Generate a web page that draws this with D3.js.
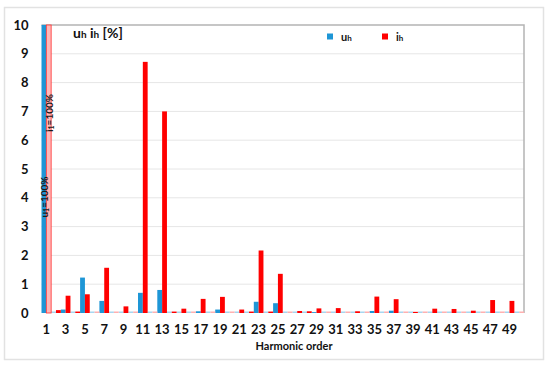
<!DOCTYPE html>
<html><head><meta charset="utf-8">
<script src="https://cdn.jsdelivr.net/npm/d3@7"></script>
<style>
html,body{margin:0;padding:0;background:#fff;}
svg text{font-family:Lato,"Open Sans",sans-serif;}
</style></head>
<body>
<svg id="c" width="550" height="367"></svg>
<script>
const harmonics = d3.range(1, 51);
const xTickLabels = d3.range(1, 50, 2);
const yTicks = [0,1,2,3,4,5,6,7,8,9,10];
// voltage harmonics u_h [%]
const uValues = [100,0,0.12,0,1.23,0,0.42,0,0,0,0.70,0,0.80,0,0,0,0.06,0,0.12,0,
                 0,0,0.39,0,0.34,0,0,0,0.03,0,0,0,0,0,0.07,0,0.08,0,0,0,
                 0,0,0,0,0,0,0,0,0,0];
// current harmonics i_h [%]
const iValues = [100,0.10,0.60,0.05,0.65,0,1.57,0,0.23,0,8.72,0,7.00,0.05,0.15,0,0.49,0,0.56,0,
                 0.12,0.05,2.17,0.05,1.36,0,0.07,0.06,0.16,0,0.17,0,0.06,0,0.57,0,0.48,0,0.04,0,
                 0.15,0,0.14,0,0.08,0,0.45,0,0.42,0];
const seriesNames = ["u","i"];
const colors = {u:"#1e96d6", i:"#ff0000"};
const zeroColors = {u:"#a6d6f0", i:"#ffb0b0"};

const svg = d3.select("#c");
const L = 41.5, R = 524, T = 25, B = 313;

// outer frame
svg.append("rect").attr("x",4.5).attr("y",7.5).attr("width",539).attr("height",352)
  .attr("fill","#fff").attr("stroke","#e2e2e2").attr("stroke-width",1.5);

const x = d3.scaleBand().domain(harmonics).range([L, R]).paddingInner(0).paddingOuter(0);
const xs = d3.scaleBand().domain(seriesNames).range([0, x.bandwidth()]);
const y = d3.scaleLinear().domain([0, 10]).range([B, T]);

// gridlines
svg.append("g").selectAll("line").data(yTicks.filter(d=>d>0 && d<10)).join("line")
  .attr("x1",L).attr("x2",R).attr("y1",d=>y(d)).attr("y2",d=>y(d))
  .attr("stroke","#e6e6e6").attr("stroke-width",1);

// y axis labels
const yAxis = d3.axisLeft(y).tickValues(yTicks).tickSize(0).tickPadding(12);
const ga = svg.append("g").attr("transform",`translate(${L},0)`).call(yAxis);
ga.select(".domain").remove();
ga.selectAll("text").attr("font-size",13).attr("font-weight","bold").attr("fill","#111")
  .attr("dx", -1);

// x axis labels
const xAxis = d3.axisBottom(x).tickValues(xTickLabels).tickSize(0).tickPadding(12);
const gx = svg.append("g").attr("transform",`translate(0,${B})`).call(xAxis);
gx.select(".domain").remove();
gx.selectAll("text").attr("font-size",13).attr("font-weight","bold").attr("fill","#111");

// plot frame (top, right)
svg.append("path").attr("d",`M${L},${T}H${R}V${B}`).attr("fill","none")
  .attr("stroke","#b4b4b4").attr("stroke-width",1.5);

// bars
const rows = harmonics.map((h,k)=>({h, u:uValues[k], i:iValues[k]}));
const gBars = svg.append("g");
seriesNames.forEach(s=>{
  gBars.selectAll("rect."+s).data(rows).join("rect").attr("class",s)
    .attr("x",d=>x(d.h)+xs(s))
    .attr("width",xs.bandwidth())
    .attr("y",d=> d[s]===0 ? B-1.5 : y(Math.min(d[s],10)))
    .attr("height",d=> d[s]===0 ? 1.5 : B - y(Math.min(d[s],10)))
    .attr("fill",d=>{
      if (d[s]===0) return zeroColors[s];
      if (s==="i" && d[s]>10) return "#ffb8b8";
      return colors[s];
    })
    .attr("stroke",d=> (s==="i" && d[s]>10) ? "#ff3030" : "none")
    .attr("stroke-width",0.8);
});

// rotated annotations on fundamental
function rotLabel(cx, cy, base){
  const t = svg.append("text").attr("transform",`translate(${cx},${cy}) rotate(-90)`)
    .attr("text-anchor","middle").attr("dominant-baseline","central")
    .attr("font-size",10).attr("font-weight","bold").attr("fill","#1a1a1a");
  t.append("tspan").text(base);
  t.append("tspan").attr("font-size",7).attr("dy",2).text("1");
  t.append("tspan").attr("dy",-2).text("=100%");
}
const x1 = x(1);
rotLabel(x1 + xs("i") + xs.bandwidth()/2, 113, "i");
rotLabel(x1 + xs("u") + xs.bandwidth()/2, 197, "u");

// title "u_h i_h [%]"
const tt = svg.append("text").attr("x",73).attr("y",38).attr("font-size",14)
  .attr("font-weight","bold").attr("fill","#111");
tt.append("tspan").text("u");
tt.append("tspan").attr("font-size",10).text("h");
tt.append("tspan").text(" i");
tt.append("tspan").attr("font-size",10).text("h");
tt.append("tspan").text(" [%]");

// legend
const legend = [{s:"u", x:327}, {s:"i", x:382}];
legend.forEach(l=>{
  svg.append("rect").attr("x",l.x).attr("y",33.5).attr("width",6).attr("height",6)
    .attr("fill",colors[l.s]);
  const t = svg.append("text").attr("x",l.x+14).attr("y",41).attr("font-size",11)
    .attr("font-weight","bold").attr("fill","#111");
  t.append("tspan").text(l.s);
  t.append("tspan").attr("font-size",8).text("h");
});

// x axis title
svg.append("text").attr("x",294).attr("y",350).attr("text-anchor","middle")
  .attr("font-size",11).attr("font-weight","bold").attr("fill","#111")
  .text("Harmonic order");
</script>
</body></html>
